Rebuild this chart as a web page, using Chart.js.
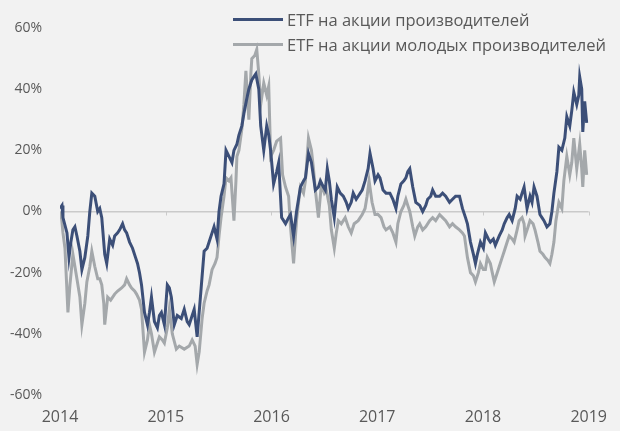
<!DOCTYPE html>
<html lang="ru">
<head>
<meta charset="utf-8">
<script src="https://cdn.jsdelivr.net/npm/chart.js@4.4.1/dist/chart.umd.min.js"></script>
<style>
  body { margin: 0; background: #f2f2f2; }
  #wrap { position: relative; width: 620px; height: 431px; background: #f2f2f2; }
  #legend { position: absolute; left: 233px; top: 7px; font-family: "Open Sans", sans-serif; font-size: 16.5px; color: #595959; }
  .item { display: flex; align-items: center; height: 25px; white-space: nowrap; }
  .swatch { width: 50px; height: 3px; margin-right: 4px; }
</style>
</head>
<body>
<div id="wrap">
  <canvas id="chart" width="620" height="431"></canvas>
  <div id="legend"></div>
</div>
<script>
// Series labels, as in the legend of the source picture.
const seriesLabels = ["ETF на акции производителей", "ETF на акции молодых производителей"];

// Producers ETF: time in fractional years, cumulative return in %.
const producerYears = [
  2014.000, 2014.019, 2014.028, 2014.066, 2014.085, 2014.103, 2014.122, 2014.141, 2014.160, 2014.188,
  2014.207, 2014.235, 2014.263, 2014.282, 2014.301, 2014.329, 2014.357, 2014.376, 2014.395, 2014.423,
  2014.442, 2014.470, 2014.498, 2014.517, 2014.545, 2014.564, 2014.592, 2014.611, 2014.630, 2014.658,
  2014.686, 2014.714, 2014.733, 2014.752, 2014.771, 2014.799, 2014.827, 2014.846, 2014.865, 2014.893,
  2014.921, 2014.940, 2014.959, 2014.987, 2015.015, 2015.034, 2015.053, 2015.081, 2015.109, 2015.147,
  2015.175, 2015.203, 2015.222, 2015.250, 2015.269, 2015.297, 2015.316, 2015.335, 2015.363, 2015.391,
  2015.410, 2015.438, 2015.457, 2015.485, 2015.504, 2015.523, 2015.551, 2015.570, 2015.598, 2015.626,
  2015.645, 2015.673, 2015.692, 2015.720, 2015.739, 2015.767, 2015.786, 2015.814, 2015.833, 2015.852,
  2015.880, 2015.898, 2015.927, 2015.955, 2015.974, 2015.992, 2016.020, 2016.049, 2016.068, 2016.096,
  2016.115, 2016.133, 2016.162, 2016.180, 2016.209, 2016.237, 2016.274, 2016.303, 2016.321, 2016.350,
  2016.378, 2016.415, 2016.444, 2016.462, 2016.491, 2016.509, 2016.528, 2016.547, 2016.566, 2016.594,
  2016.622, 2016.650, 2016.679, 2016.707, 2016.726, 2016.754, 2016.773, 2016.801, 2016.820, 2016.858,
  2016.885, 2016.914, 2016.932, 2016.961, 2016.979, 2017.008, 2017.026, 2017.055, 2017.083, 2017.120,
  2017.148, 2017.177, 2017.195, 2017.224, 2017.252, 2017.271, 2017.289, 2017.308, 2017.336, 2017.365,
  2017.402, 2017.430, 2017.459, 2017.477, 2017.506, 2017.524, 2017.553, 2017.590, 2017.618, 2017.647,
  2017.684, 2017.712, 2017.741, 2017.778, 2017.806, 2017.835, 2017.853, 2017.882, 2017.910, 2017.929,
  2017.947, 2017.976, 2018.004, 2018.023, 2018.051, 2018.070, 2018.098, 2018.117, 2018.154, 2018.182,
  2018.201, 2018.229, 2018.248, 2018.276, 2018.305, 2018.323, 2018.352, 2018.370, 2018.389, 2018.417,
  2018.445, 2018.464, 2018.483, 2018.511, 2018.539, 2018.558, 2018.577, 2018.605, 2018.633, 2018.652,
  2018.671, 2018.699, 2018.718, 2018.746, 2018.774, 2018.793, 2018.821, 2018.840, 2018.859, 2018.887,
  2018.906, 2018.915, 2018.934, 2018.944, 2018.962, 2018.981
];
const producerValues = [
  1, 2, -2, -7, -15, -10, -6, -5, -8, -13,
  -19, -15, -8, 0, 6, 5, 0, 1, -2, -14,
  -17, -9, -11, -8, -7, -6, -4, -6, -7, -10,
  -12, -15, -17, -20, -24, -33, -37, -33, -28, -36,
  -38, -34, -33, -37, -24, -25, -28, -37, -34, -35,
  -32, -36, -37, -34, -32, -41, -33, -25, -13, -12,
  -10, -7, -5, -9, 0, 5, 9, 20, 18, 16,
  20, 22, 25, 28, 32, 37, 40, 43, 44, 45,
  40, 28, 20, 28, 25, 20, 9, 13, 16, -2,
  -3, -4, -2, -1, -8, 0, 8, 10, 11, 19,
  16, 7, 8, 10, 8, 7, 14, 10, 4, -2,
  8, 6, 5, 3, 1, 3, 6, 4, 5, 7,
  10, 14, 19, 14, 10, 12, 11, 7, 6, 6,
  4, 1, 5, 9, 10, 11, 13, 14, 8, 3,
  2, 0, 2, 4, 5, 7, 5, 5, 6, 5,
  3, 4, 5, 5, 1, -2, -4, -10, -14, -17,
  -14, -10, -12, -7, -9, -10, -9, -11, -8, -6,
  -4, -2, -1, -3, 1, 5, 4, 6, 8, 1,
  5, 3, 8, 5, -1, -2, -3, -5, -4, 0,
  6, 13, 21, 20, 24, 31, 28, 33, 39, 35,
  38, 44, 40, 26, 36, 29
];

// Junior producers ETF: time in fractional years, cumulative return in %.
const juniorYears = [
  2014.000, 2014.009, 2014.028, 2014.047, 2014.075, 2014.094, 2014.122, 2014.141, 2014.160, 2014.188,
  2014.207, 2014.235, 2014.254, 2014.282, 2014.301, 2014.329, 2014.357, 2014.376, 2014.395, 2014.414,
  2014.423, 2014.451, 2014.479, 2014.517, 2014.545, 2014.583, 2014.611, 2014.630, 2014.658, 2014.677,
  2014.705, 2014.724, 2014.752, 2014.771, 2014.799, 2014.827, 2014.846, 2014.865, 2014.893, 2014.921,
  2014.940, 2014.968, 2014.987, 2015.015, 2015.034, 2015.062, 2015.100, 2015.128, 2015.175, 2015.222,
  2015.250, 2015.278, 2015.297, 2015.316, 2015.344, 2015.363, 2015.391, 2015.410, 2015.438, 2015.466,
  2015.485, 2015.504, 2015.523, 2015.551, 2015.570, 2015.598, 2015.617, 2015.645, 2015.664, 2015.673,
  2015.692, 2015.720, 2015.739, 2015.758, 2015.786, 2015.805, 2015.814, 2015.842, 2015.861, 2015.880,
  2015.898, 2015.927, 2015.955, 2015.974, 2015.992, 2016.020, 2016.049, 2016.086, 2016.105, 2016.133,
  2016.162, 2016.180, 2016.209, 2016.237, 2016.256, 2016.274, 2016.303, 2016.321, 2016.350, 2016.378,
  2016.397, 2016.415, 2016.444, 2016.472, 2016.500, 2016.519, 2016.547, 2016.566, 2016.594, 2016.613,
  2016.632, 2016.660, 2016.697, 2016.726, 2016.754, 2016.782, 2016.820, 2016.858, 2016.885, 2016.904,
  2016.923, 2016.951, 2016.979, 2017.008, 2017.036, 2017.064, 2017.083, 2017.120, 2017.148, 2017.177,
  2017.195, 2017.224, 2017.252, 2017.271, 2017.289, 2017.308, 2017.336, 2017.355, 2017.383, 2017.402,
  2017.430, 2017.459, 2017.496, 2017.524, 2017.553, 2017.590, 2017.618, 2017.647, 2017.684, 2017.712,
  2017.741, 2017.778, 2017.806, 2017.825, 2017.853, 2017.882, 2017.910, 2017.929, 2017.957, 2017.976,
  2018.004, 2018.023, 2018.041, 2018.070, 2018.088, 2018.107, 2018.135, 2018.154, 2018.182, 2018.201,
  2018.229, 2018.248, 2018.276, 2018.295, 2018.323, 2018.342, 2018.370, 2018.389, 2018.398, 2018.427,
  2018.445, 2018.474, 2018.492, 2018.520, 2018.539, 2018.567, 2018.586, 2018.614, 2018.633, 2018.652,
  2018.671, 2018.690, 2018.718, 2018.746, 2018.765, 2018.793, 2018.821, 2018.840, 2018.859, 2018.887,
  2018.915, 2018.934, 2018.944, 2018.962, 2018.981
];
const juniorValues = [
  -2, 0, -7, -12, -33, -24, -14, -18, -22, -28,
  -37, -30, -23, -18, -13, -18, -22, -22, -24, -30,
  -37, -28, -29, -27, -26, -25, -24, -22, -24, -25,
  -26, -27, -29, -32, -46, -42, -37, -40, -46, -43,
  -41, -42, -43, -38, -32, -40, -45, -44, -45, -44,
  -42, -44, -50, -46, -35, -30, -26, -24, -19, -17,
  -15, -8, -2, 5, 11, 10, 11, -3, 10, 18,
  20, 27, 35, 46, 30, 45, 50, 51, 53, 45,
  35, 42, 38, 41, 18, 20, 23, 24, 12, 8,
  5, -5, -17, -3, 3, 8, 6, 10, 24, 20,
  14, 7, -2, 9, 6, 7, 2, -6, -12, -7,
  -3, -4, -2, -5, -7, -4, -3, -1, 1, 5,
  10, 3, -1, -1, -2, -5, -6, -5, -7, -10,
  -4, 0, 2, 4, 2, 0, -5, -8, -5, -4,
  -6, -5, -3, -2, -3, -1, -2, -3, -5, -4,
  -5, -6, -7, -8, -15, -20, -21, -23, -20, -17,
  -19, -19, -15, -17, -20, -23, -20, -18, -15, -13,
  -10, -8, -9, -10, -6, -3, -2, -4, -8, -5,
  -3, -4, -6, -10, -13, -14, -15, -16, -17, -14,
  -10, -3, 3, 1, 10, 18, 12, 16, 24, 14,
  22, 14, 8, 20, 12
];

// Axis ticks.
const yearTicks = [2014, 2015, 2016, 2017, 2018, 2019];
const percentTicks = [-60, -40, -20, 0, 20, 40, 60];

const seriesColors = ["#3c4f78", "#a4a8ab"];
const textColor = "#595959";
const zeroLineColor = "#cacaca";

const toPoints = (xs, ys) => xs.map((x, i) => ({ x, y: ys[i] }));

// Small year tick marks hanging from the zero line.
const zeroTicks = {
  id: "zeroTicks",
  beforeDatasetsDraw(chart) {
    const { ctx, scales: { x, y } } = chart;
    const y0 = y.getPixelForValue(0);
    ctx.save();
    ctx.strokeStyle = zeroLineColor;
    ctx.lineWidth = 1;
    yearTicks.slice(1).forEach((yr) => {
      const px = Math.round(x.getPixelForValue(yr)) + 0.5;
      ctx.beginPath();
      ctx.moveTo(px, y0);
      ctx.lineTo(px, y0 + 4);
      ctx.stroke();
    });
    ctx.restore();
  },
};

new Chart(document.getElementById("chart"), {
  type: "line",
  data: {
    datasets: [
      {
        label: seriesLabels[0],
        data: toPoints(producerYears, producerValues),
        borderColor: seriesColors[0],
        borderWidth: 3,
        pointRadius: 0,
        tension: 0,
      },
      {
        label: seriesLabels[1],
        data: toPoints(juniorYears, juniorValues),
        borderColor: seriesColors[1],
        borderWidth: 3,
        pointRadius: 0,
        tension: 0,
      },
    ],
  },
  options: {
    responsive: false,
    animation: false,
    layout: { padding: { top: 28, right: 28, bottom: 0, left: 0 } },
    plugins: { legend: { display: false }, tooltip: { enabled: false } },
    scales: {
      x: {
        type: "linear",
        min: yearTicks[0],
        max: yearTicks[yearTicks.length - 1],
        afterFit: (s) => { s.height = 36; },
        afterBuildTicks: (s) => { s.ticks = yearTicks.map((v) => ({ value: v })); },
        grid: { display: false, drawTicks: false },
        border: { display: false },
        ticks: {
          padding: 13,
          color: textColor,
          font: { family: "Open Sans", size: 16 },
          maxRotation: 0,
          callback: (v) => String(v),
        },
      },
      y: {
        min: percentTicks[0],
        max: percentTicks[percentTicks.length - 1],
        afterFit: (s) => { s.width = 60; },
        afterBuildTicks: (s) => { s.ticks = percentTicks.map((v) => ({ value: v })); },
        grid: {
          drawTicks: false,
          lineWidth: 1.5,
          color: (c) => (c.tick && c.tick.value === 0 ? zeroLineColor : "rgba(0,0,0,0)"),
        },
        border: { display: false },
        ticks: {
          padding: 18,
          color: textColor,
          font: { family: "Open Sans", size: 14 },
          callback: (v) => v + "%",
        },
      },
    },
  },
  plugins: [zeroTicks],
});

// Legend built from the series labels.
const legend = document.getElementById("legend");
seriesLabels.forEach((label, i) => {
  const item = document.createElement("div");
  item.className = "item";
  const swatch = document.createElement("span");
  swatch.className = "swatch";
  swatch.style.background = seriesColors[i];
  const text = document.createElement("span");
  text.textContent = label;
  item.append(swatch, text);
  legend.append(item);
});
</script>
</body>
</html>
